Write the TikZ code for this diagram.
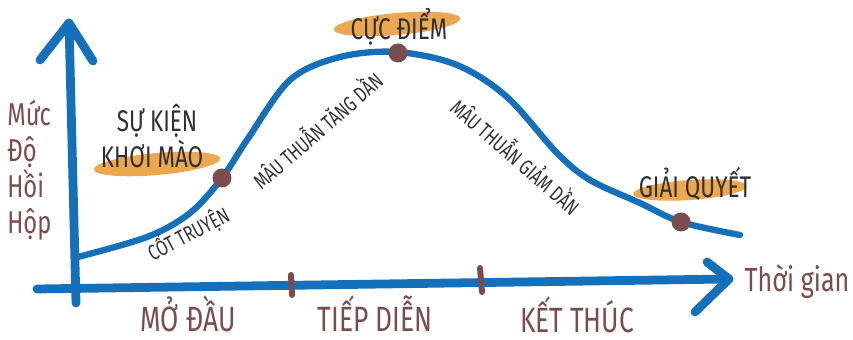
\documentclass[tikz,border=0pt]{standalone}
\usepackage{fontspec}
\setmainfont{Fira Sans}
\newfontfamily\hand[FakeStretch=0.75]{Fira Sans}
\usetikzlibrary{shapes.geometric}
\definecolor{axisblue}{RGB}{20,112,186}
\definecolor{dotbrown}{RGB}{122,76,76}
\definecolor{hlorange}{RGB}{236,168,78}
\definecolor{inkgray}{RGB}{47,47,54}
\begin{document}
\begin{tikzpicture}[x=0.02cm,y=-0.02cm,line join=round,line cap=round,
	every node/.style={font=\hand,inner sep=0pt},
	axis/.style={draw=axisblue,line width=5pt},
	curve/.style={draw=axisblue,line width=3.6pt},
	tickmark/.style={draw=dotbrown,line width=3.4pt},
	hilite/.style={ellipse,fill=hlorange,inner sep=0pt},
	pointdot/.style={circle,fill=dotbrown,minimum size=0.38cm},
	axislbl/.style={text=dotbrown,anchor=base},
	keylbl/.style={text=inkgray,anchor=base,font=\hand\fontsize{17}{19}\selectfont},
	curvelbl/.style={text=inkgray,font=\hand\fontsize{12.2}{14}\selectfont}]
	\useasboundingbox (0,0) rectangle (853,340);
	\path
	(69,23) coordinate (ytip)
	(40,60) coordinate (yleft)
	(93,61) coordinate (yright)
	(76,303) coordinate (yfoot)
	(37,289) coordinate (xfoot)
	(729,279) coordinate (xtip)
	(707,262) coordinate (xup)
	(695,312) coordinate (xlow);
	\draw[axis] (yfoot) -- (ytip);
	\draw[axis] (yleft) -- (ytip) -- (yright);
	\draw[axis] (xfoot) -- (xtip);
	\draw[axis] (xup) -- (xtip) -- (xlow);
	\draw[tickmark] (291,275) -- (292,295);
	\draw[tickmark] (480,268) -- (482,292);
	\node[hilite,rotate=5,minimum width=2.54cm,minimum height=0.44cm] (hlkhoi) at (157,164) {};
	\node[hilite,rotate=5,minimum width=2.54cm,minimum height=0.44cm] (hlcuc) at (397,24) {};
	\node[hilite,rotate=4,minimum width=2.28cm,minimum height=0.40cm] (hlgiai) at (690,190) {};
	\draw[curve] plot[smooth,tension=0.55] coordinates {(74,258) (147,237) (190,213) (222,178) (247,140) (290,80) (340,57) (397,52) (457,65) (507,97) (557,153) (590,180) (640,203) (681,222) (740,235)};
	\foreach \n/\x/\y in {ptkhoi/222/178,ptcuc/398/53,ptgiai/681/222}{
		\node[pointdot] (\n) at (\x,\y) {};
	}
	\node[text=dotbrown,anchor=north west,align=left,font=\hand\fontsize{18}{20.4}\selectfont] (ylabel) at (7,100) {Mức\\Độ\\Hồi\\Hộp};
	\node[axislbl,font=\hand\fontsize{19}{21}\selectfont] (xlabel) at (797,292) {Thời gian};
	\node[axislbl,font=\hand\fontsize{20}{22}\selectfont] (modau) at (188,332) {MỞ ĐẦU};
	\node[axislbl,font=\hand\fontsize{20}{22}\selectfont] (tiepdien) at (375,332) {TIẾP DIỄN};
	\node[axislbl,font=\hand\fontsize{20}{22}\selectfont] (ketthuc) at (577,333) {KẾT THÚC};
	\node[keylbl] (sukien) at (157,132) {SỰ KIỆN};
	\node[keylbl] (khoimao) at (152,168) {KHƠI MÀO};
	\node[keylbl] (cucdiem) at (399,40) {CỰC ĐIỂM};
	\node[keylbl] (giaiquyet) at (695,198) {GIẢI QUYẾT};
	\node[curvelbl,rotate=28] (cottruyen) at (188,233) {CỐT TRUYỆN};
	\node[curvelbl,rotate=41] (tangdan) at (316,129) {MÂU THUẪN TĂNG DẦN};
	\node[curvelbl,rotate=-41] (giamdan) at (517,155) {MÂU THUẪN GIẢM DẦN};
\end{tikzpicture}
\end{document}
